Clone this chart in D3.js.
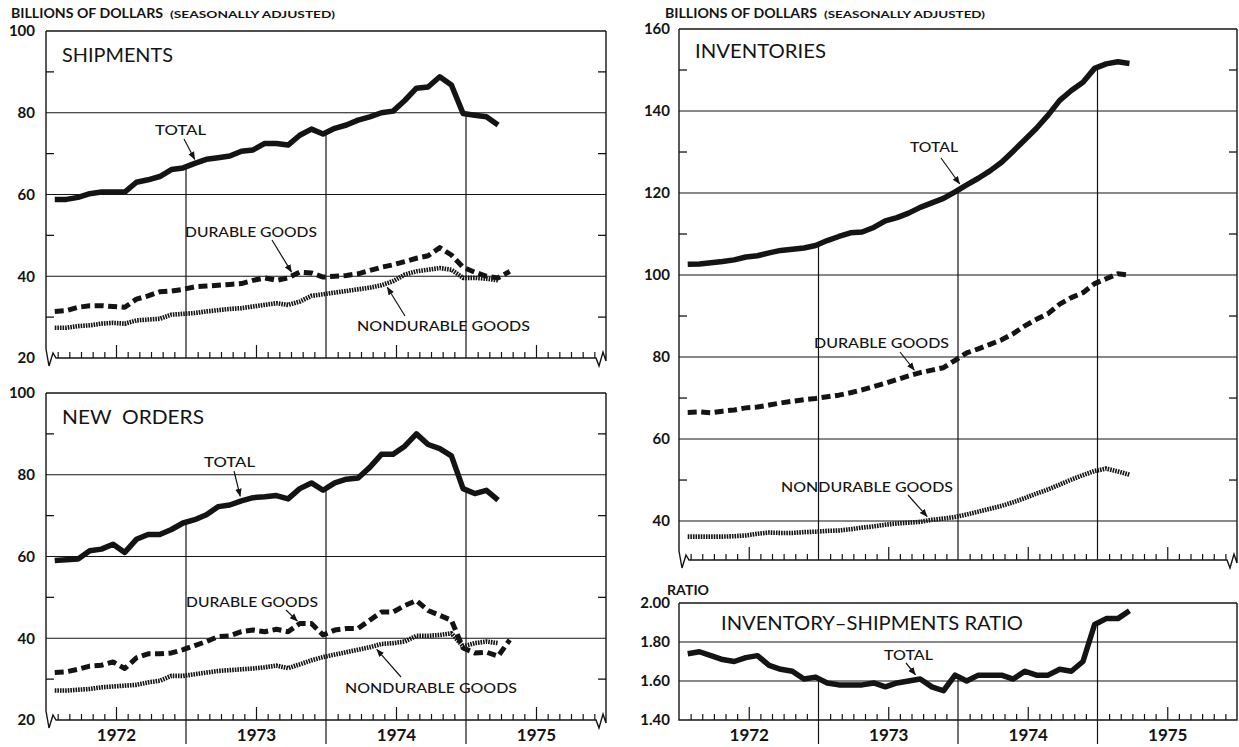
<!DOCTYPE html>
<html><head><meta charset="utf-8">
<script src="https://cdn.jsdelivr.net/npm/d3@7"></script>
<style>
body{margin:0;background:#fff;}
svg{display:block;font-family:Lato,"DejaVu Sans",sans-serif;}
</style></head><body>
<svg id="c" width="1239" height="747"></svg>
<script>
// ---------------- DATA (monthly, Jan 1972 = index 0) ----------------
const years = ["1972","1973","1974","1975"];
const shipTotal = [58.8,58.8,59.3,60.2,60.6,60.6,60.6,63.0,63.6,64.4,66.1,66.5,67.6,68.6,69.0,69.4,70.6,70.9,72.5,72.5,72.1,74.5,76.0,74.8,76.2,77.0,78.2,79.0,80.0,80.4,83.0,86.0,86.3,88.8,86.8,79.8,79.4,79.0,77.0];
const shipDurable = [31.4,31.6,32.4,32.8,32.8,32.6,32.4,34.4,35.2,36.2,36.4,36.8,37.4,37.6,37.8,38.0,38.2,39.0,39.6,39.0,39.6,41.0,40.8,39.8,40.0,40.2,40.6,41.4,42.2,42.8,43.6,44.4,45.0,47.0,45.2,42.2,41.0,40.0,39.6,41.2];
const shipNondurable = [27.4,27.4,27.8,28.0,28.4,28.6,28.4,29.2,29.4,29.6,30.6,30.8,31.0,31.4,31.7,32.0,32.2,32.6,33.0,33.4,33.0,33.8,35.2,35.6,36.0,36.4,36.8,37.2,37.8,38.8,40.4,41.2,41.6,42.0,41.6,39.6,39.6,39.4,39.0];
const ordTotal = [59.0,59.2,59.4,61.4,61.8,63.0,61.0,64.2,65.4,65.4,66.6,68.2,69.0,70.2,72.2,72.6,73.6,74.4,74.6,74.9,74.1,76.6,78.0,76.2,78.0,78.9,79.2,81.8,85.0,85.0,87.0,90.0,87.4,86.4,84.6,76.6,75.4,76.2,73.8];
const ordDurable = [31.6,31.8,32.4,33.2,33.4,34.2,32.6,35.2,36.2,36.2,36.4,37.2,38.2,39.2,40.4,40.6,41.6,42.0,41.6,42.2,41.6,43.6,43.6,40.8,42.0,42.4,42.4,44.4,46.4,46.4,48.0,49.2,46.8,45.6,44.4,37.6,36.4,36.6,35.6,39.6];
const ordNondurable = [27.2,27.2,27.4,27.6,28.0,28.2,28.4,28.6,29.2,29.6,30.8,30.8,31.2,31.6,32.0,32.2,32.4,32.6,32.9,33.3,32.7,33.6,34.6,35.4,36.0,36.6,37.2,37.8,38.6,38.8,39.2,40.6,40.6,40.8,41.2,38.0,38.8,39.2,38.8];
const invTotal = [102.6,102.7,103.0,103.3,103.7,104.4,104.7,105.4,106.0,106.3,106.6,107.2,108.4,109.4,110.3,110.5,111.6,113.2,114.0,115.1,116.5,117.6,118.7,120.3,122.0,123.6,125.4,127.5,130.2,133.0,135.8,139.0,142.6,145.0,147.0,150.4,151.5,152.0,151.6];
const invDurable = [66.5,66.6,66.4,66.8,67.1,67.6,67.8,68.3,68.8,69.2,69.6,69.9,70.3,70.7,71.3,72.0,72.8,73.6,74.5,75.4,76.2,76.8,77.4,79.2,81.0,82.0,83.1,84.2,85.7,87.6,89.2,90.6,92.9,94.5,95.7,97.9,99.1,100.3,100.0];
const invNondurable = [36.2,36.2,36.2,36.2,36.3,36.5,36.9,37.2,37.1,37.1,37.3,37.4,37.6,37.7,38.0,38.4,38.7,39.1,39.4,39.6,39.8,40.3,40.6,41.0,41.6,42.3,43.0,43.7,44.6,45.6,46.7,47.7,48.9,50.1,51.2,52.2,52.8,52.1,51.3];
const ratioTotal = [1.74,1.75,1.73,1.71,1.70,1.72,1.73,1.68,1.66,1.65,1.61,1.62,1.59,1.58,1.58,1.58,1.59,1.57,1.59,1.60,1.61,1.57,1.55,1.63,1.60,1.63,1.63,1.63,1.61,1.65,1.63,1.63,1.66,1.65,1.70,1.89,1.92,1.92,1.96];
const dollarTicks = [20,40,60,80,100];
const invTicks = [40,60,80,100,120,140,160];
const ratioTicks = [1.40,1.60,1.80,2.00];

// ---------------- DRAWING ----------------
const svg = d3.select("#c");
const INK = "#141414";
const OFF = 0.75; // data point position inside a month slot

svg.append("defs").append("marker").attr("id","ah")
  .attr("viewBox","0 0 10 10").attr("refX",9.5).attr("refY",5)
  .attr("markerWidth",8).attr("markerHeight",8).attr("markerUnits","userSpaceOnUse")
  .attr("orient","auto")
  .append("path").attr("d","M0,1 L10,5 L0,9 Z").attr("fill",INK);

const styles = {
  total:{w:5.5, dash:null},
  durable:{w:5, dash:"9,4.5"},
  nondurable:{w:4.6, dash:"1.6,1"}
};

function interp(arr, t){
  const i0 = Math.max(0, Math.min(arr.length-1, Math.floor(t)));
  const i1 = Math.min(arr.length-1, i0+1);
  const f = t - i0;
  return arr[i0]*(1-f) + arr[i1]*f;
}

function text(x, y, str, size, weight, len){
  const t = svg.append("text").attr("x",x).attr("y",y).text(str)
    .attr("font-size",size).attr("font-weight",weight).attr("fill",INK)
    .style("white-space","pre");
  if(len) t.attr("textLength",len).attr("lengthAdjust","spacingAndGlyphs");
  return t;
}

function panel(c){
  const x = d3.scaleLinear().domain([0,48]).range([c.L,c.R]);
  const y = d3.scaleLinear().domain(c.domain).range([c.bottom,c.top]);
  const g = svg.append("g");
  const B = c.bottom;

  g.selectAll("line.grid").data(c.grid).join("line").attr("class","grid")
    .attr("x1",c.L).attr("x2",c.R).attr("y1",d=>y(d)).attr("y2",d=>y(d))
    .attr("stroke",INK).attr("stroke-width",1.1);
  g.append("line").attr("x1",c.L).attr("x2",c.R).attr("y1",c.top).attr("y2",c.top)
    .attr("stroke",INK).attr("stroke-width",1.3);
  let p;
  if(c.zig){
    p = `M${c.L},${c.top} V${B-9} L${c.L+3},${B+8} L${c.L+7},${B-5} L${c.L+10},${B} H${c.R-10} L${c.R-7},${B+8} L${c.R-3},${B-6} L${c.R},${B+3} V${c.top}`;
  } else {
    p = `M${c.L},${c.top} V${B} H${c.R} V${c.top}`;
  }
  g.append("path").attr("d",p).attr("fill","none").attr("stroke",INK).attr("stroke-width",1.4);

  if(c.minor){
    c.minor.forEach(v=>{
      g.append("line").attr("x1",c.L).attr("x2",c.L+8).attr("y1",y(v)).attr("y2",y(v)).attr("stroke",INK).attr("stroke-width",1.3);
      g.append("line").attr("x1",c.R-8).attr("x2",c.R).attr("y1",y(v)).attr("y2",y(v)).attr("stroke",INK).attr("stroke-width",1.3);
    });
  }

  const monthTicks = d3.range(1,48).filter(k=>k%6!==0);
  const ax1 = g.append("g").attr("transform",`translate(0,${B})`)
    .call(d3.axisBottom(x).tickValues(monthTicks).tickSize(-6).tickFormat(""));
  const ax2 = g.append("g").attr("transform",`translate(0,${B})`)
    .call(d3.axisBottom(x).tickValues([6,18,30,42]).tickSize(-13).tickFormat(""));
  [ax1,ax2].forEach(a=>{a.select(".domain").remove(); a.selectAll("line").attr("stroke",INK).attr("stroke-width",1.2);});

  const ya = g.append("g").attr("transform",`translate(${c.L},0)`)
    .call(d3.axisLeft(y).tickValues(c.ticks).tickSize(0).tickPadding(c.pad||11).tickFormat(c.fmt||d3.format("d")));
  ya.select(".domain").remove();
  ya.selectAll("text").attr("font-family","Lato, DejaVu Sans, sans-serif").attr("font-size",15).attr("font-weight",700).attr("fill",INK);

  [12,24,36].forEach(k=>{
    const v = interp(c.series[0].data, k-OFF);
    g.append("line").attr("x1",x(k)).attr("x2",x(k)).attr("y1",y(v)).attr("y2",B + (c.years?24:0))
      .attr("stroke",INK).attr("stroke-width",1.2);
  });

  if(c.years){
    const xa = g.append("g").attr("transform",`translate(0,${B})`)
      .call(d3.axisBottom(x).tickValues([6,18,30,42]).tickSize(0).tickPadding(9).tickFormat((d,i)=>years[i]));
    xa.select(".domain").remove();
    xa.selectAll("text").attr("font-family","Lato, DejaVu Sans, sans-serif").attr("font-size",17).attr("font-weight",700).attr("fill",INK);
  }

  c.series.slice().reverse().forEach(s=>{
    const st = styles[s.kind];
    const line = d3.line().x((d,i)=>x(i+OFF)).y(d=>y(d));
    g.append("path").datum(s.data).attr("d",line).attr("fill","none")
      .attr("stroke",INK).attr("stroke-width",st.w)
      .attr("stroke-linejoin","round")
      .attr("stroke-dasharray",st.dash);
  });

  text(c.title.x, c.title.y, c.title.t, c.title.size||20, 400, c.title.len);

  c.labels.forEach(l=>{
    const s = c.series[l.s];
    text(l.x, l.y, l.t, 14, 500, l.len);
    const tx = x(l.m + OFF);
    const ty = y(interp(s.data, l.m)) + l.dy;
    g.append("line").attr("x1",l.ax).attr("y1",l.ay).attr("x2",tx).attr("y2",ty)
      .attr("stroke",INK).attr("stroke-width",1.2).attr("marker-end","url(#ah)");
  });
  return {x,y};
}

text(11, 18, "BILLIONS OF DOLLARS", 14, 700, 152);
text(170, 18, "(SEASONALLY ADJUSTED)", 9.5, 700, 165);
text(665, 18, "BILLIONS OF DOLLARS", 14, 700, 152);
text(824, 18, "(SEASONALLY ADJUSTED)", 9.5, 700, 161);
text(667, 595, "RATIO", 13, 700, 42);

panel({L:46,R:606,top:31,bottom:358,domain:[20,100],grid:[40,60,80],minor:[30,50,70,90],ticks:dollarTicks,zig:true,
  series:[{kind:"total",data:shipTotal},{kind:"durable",data:shipDurable},{kind:"nondurable",data:shipNondurable}],
  title:{t:"SHIPMENTS",x:62,y:62,len:111},
  labels:[
    {s:0,t:"TOTAL",x:155,y:135,len:51,ax:184,ay:139,m:12.0,dy:-4},
    {s:1,t:"DURABLE GOODS",x:185,y:237,len:132,ax:272,ay:240,m:20.3,dy:-4},
    {s:2,t:"NONDURABLE GOODS",x:357,y:331,len:173,ax:405,ay:316,m:28.5,dy:4}
  ]});

panel({L:46,R:606,top:393,bottom:720,domain:[20,100],grid:[40,60,80],minor:[30,50,70,90],ticks:dollarTicks,zig:true,years:true,
  series:[{kind:"total",data:ordTotal},{kind:"durable",data:ordDurable},{kind:"nondurable",data:ordNondurable}],
  title:{t:"NEW  ORDERS",x:62,y:424,len:142},
  labels:[
    {s:0,t:"TOTAL",x:204,y:467,len:51,ax:234,ay:471,m:15.9,dy:-5},
    {s:1,t:"DURABLE GOODS",x:186,y:607,len:132,ax:286,ay:610,m:20.8,dy:-4},
    {s:2,t:"NONDURABLE GOODS",x:345,y:693,len:172,ax:401,ay:677,m:27.6,dy:4}
  ]});

panel({L:679,R:1237,top:29,bottom:560,domain:[30.5,160],grid:[40,60,80,100,120,140],minor:[50,70,90,110,130,150],ticks:invTicks,zig:true,pad:9,
  series:[{kind:"total",data:invTotal},{kind:"durable",data:invDurable},{kind:"nondurable",data:invNondurable}],
  title:{t:"INVENTORIES",x:695,y:58,len:131},
  labels:[
    {s:0,t:"TOTAL",x:910,y:152,len:48,ax:941,ay:158,m:23.4,dy:-5},
    {s:1,t:"DURABLE GOODS",x:814,y:348,len:135,ax:900,ay:352,m:19.5,dy:-4},
    {s:2,t:"NONDURABLE GOODS",x:781,y:492,len:172,ax:908,ay:495,m:20.6,dy:-4}
  ]});

panel({L:679,R:1237,top:603,bottom:720,domain:[1.40,2.00],grid:[1.60,1.80],ticks:ratioTicks,zig:false,years:true,pad:9,fmt:d3.format(".2f"),
  series:[{kind:"total",data:ratioTotal}],
  title:{t:"INVENTORY–SHIPMENTS RATIO",x:721,y:630,len:302},
  labels:[
    {s:0,t:"TOTAL",x:884,y:660,len:49,ax:906,ay:663,m:19.6,dy:-5}
  ]});
</script>
</body></html>
